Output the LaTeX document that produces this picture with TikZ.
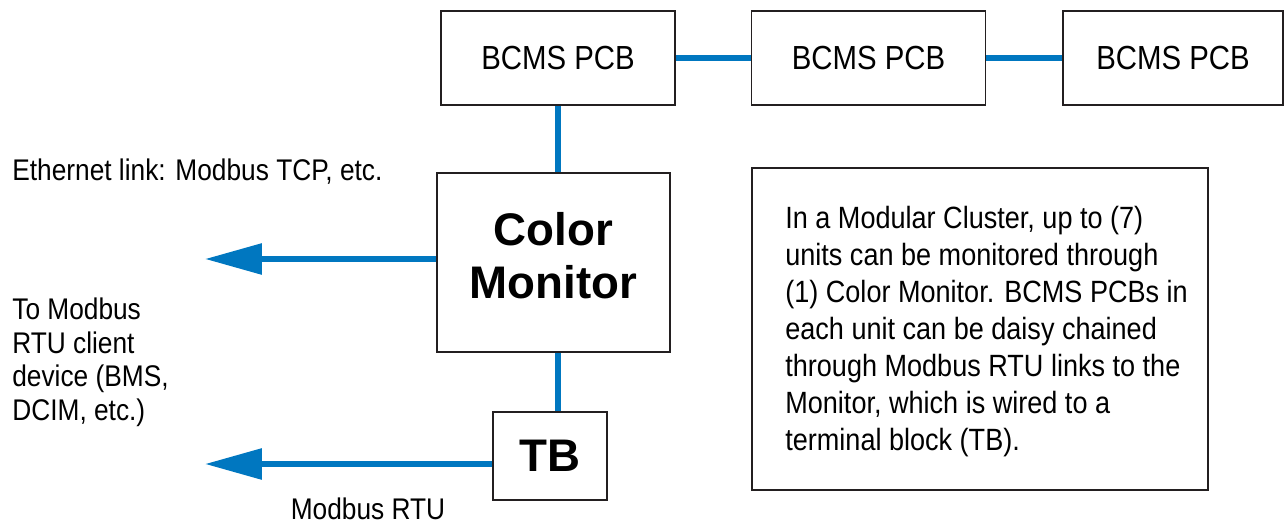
\documentclass[tikz,border=0pt]{standalone}
\usepackage{fontspec}
\setmainfont{Liberation Sans}[FakeStretch=0.88]
\newfontfamily\headfont{Liberation Sans}
\usetikzlibrary{arrows.meta,calc}
\definecolor{linkblue}{RGB}{0,119,192}
\definecolor{boxgray}{RGB}{35,31,32}

\begin{document}
\begin{tikzpicture}[x=0.02cm,y=-0.02cm,
  frame/.style={draw=boxgray,line width=1.1pt},
  pcb/.style={frame,minimum width=4.68cm,minimum height=1.88cm,
    font=\fontsize{19}{22}\selectfont},
  headtxt/.style={font=\headfont\bfseries\fontsize{26}{30}\selectfont,align=center},
  bigbox/.style={frame,headtxt},
  link/.style={linkblue,line width=3.4pt},
  feed/.style={link,-{Triangle[length=1.14cm,width=0.6cm]}},
  note/.style={font=\fontsize{17}{21}\selectfont,align=left,inner sep=0pt}]
\useasboundingbox (0,0) rectangle (1286,524);
\node[pcb] (pcbA) at (558,58) {BCMS PCB};
\node[pcb] (pcbB) at (868.5,58) {BCMS PCB};
\node[pcb,minimum width=4.4cm] (pcbC) at (1173,58) {BCMS PCB};
\node[frame,minimum width=4.66cm,minimum height=3.58cm] (mon) at (553.5,262.5) {};
\node[headtxt] (monTxt) at (553.5,256) {Color\\Monitor};
\node[bigbox,minimum width=2.28cm,minimum height=1.76cm] (tb) at (550,456) {TB};
\node[frame,minimum width=9.12cm,minimum height=6.44cm] (info) at (980,329) {};
% links
\draw[link] (pcbA) -- (pcbB);
\draw[link] (pcbB) -- (pcbC);
\draw[link] (pcbA.south) -- (pcbA.south |- mon.north);
\draw[link] (pcbA.south |- mon.south) -- (pcbA.south |- tb.north);
\coordinate (ethEnd) at (205,259);
\coordinate (rtuEnd) at (205,464);
\draw[feed] (mon.west |- ethEnd) -- (ethEnd);
\draw[feed] (tb.west |- rtuEnd) -- (rtuEnd);
% labels
\node[note,anchor=west] (ethLbl) at (12,172) {Ethernet link: Modbus TCP, etc.};
\node[note,anchor=north west,font=\fontsize{17}{19}\selectfont] (rtuLbl) at (12,298)
  {To Modbus\\RTU client\\device (BMS,\\DCIM, etc.)};
\node[note] (rtuTxt) at (368,509) {Modbus RTU};
\node[note,anchor=north west,font=\fontsize{17.5}{21}\selectfont] (infoTxt) at (785,206)
  {In a Modular Cluster, up to (7)\\units can be monitored through\\(1) Color Monitor. BCMS PCBs in\\each unit can be daisy chained\\through Modbus RTU links to the\\Monitor, which is wired to a\\terminal block (TB).};
\end{tikzpicture}
\end{document}
